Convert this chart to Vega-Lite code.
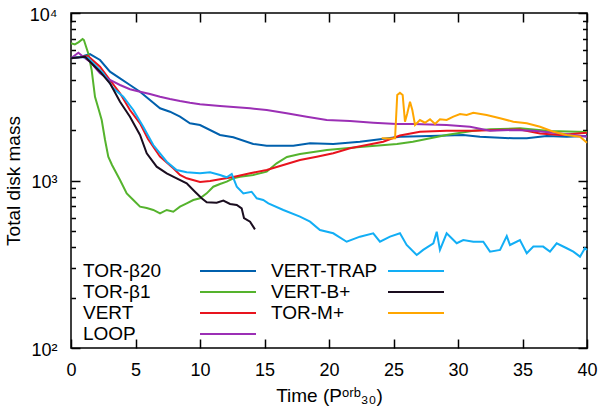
{
  "$schema": "https://vega.github.io/schema/vega-lite/v6.json",
  "autosize": {"type": "none"},
  "width": 516,
  "height": 335,
  "padding": {"left": 71, "top": 13, "right": 14, "bottom": 66},
  "background": "white",
  "config": {
    "view": {"stroke": "black", "strokeWidth": 1.5},
    "axis": {"domain": false, "grid": false, "tickColor": "black", "tickWidth": 1.5, "labelFont": "Liberation Sans", "labelColor": "black", "labelFontSize": 18, "titleFont": "Liberation Sans", "titleColor": "black", "titleFontSize": 19, "titleFontWeight": "normal", "labelFlush": false, "labelOverlap": false, "labelBound": false},
    "legend": {"orient": "none", "legendX": 12, "legendY": 247, "columns": 2, "padding": 0, "labelFont": "Liberation Sans", "labelFontSize": 19, "labelColor": "black", "symbolType": "M10.6,0L16.2,0", "symbolSize": 400, "symbolStrokeWidth": 2, "labelOffset": -22, "columnPadding": 11, "rowPadding": -1.3}
  },
  "data": {"values": [
    {"s":"TOR-β20","t":0,"m":5365},{"s":"TOR-β20","t":0.7,"m":5460},{"s":"TOR-β20","t":1.47,"m":5690},{"s":"TOR-β20","t":2.25,"m":5241},{"s":"TOR-β20","t":3.02,"m":4463},{"s":"TOR-β20","t":3.8,"m":4075},{"s":"TOR-β20","t":4.57,"m":3717},{"s":"TOR-β20","t":5.35,"m":3390},{"s":"TOR-β20","t":6.12,"m":3024},{"s":"TOR-β20","t":6.9,"m":2698},{"s":"TOR-β20","t":7.67,"m":2574},{"s":"TOR-β20","t":8.45,"m":2404},{"s":"TOR-β20","t":9.22,"m":2195},{"s":"TOR-β20","t":10,"m":2145},{"s":"TOR-β20","t":11.55,"m":1870},{"s":"TOR-β20","t":12.58,"m":1811},{"s":"TOR-β20","t":14.13,"m":1652},{"s":"TOR-β20","t":15.17,"m":1614},{"s":"TOR-β20","t":17.23,"m":1614},{"s":"TOR-β20","t":18.53,"m":1667},{"s":"TOR-β20","t":20.33,"m":1652},{"s":"TOR-β20","t":22.4,"m":1705},{"s":"TOR-β20","t":23.95,"m":1762},{"s":"TOR-β20","t":25.5,"m":1826},{"s":"TOR-β20","t":27.83,"m":1844},{"s":"TOR-β20","t":30.4,"m":1870},{"s":"TOR-β20","t":31.7,"m":1826},{"s":"TOR-β20","t":34.29,"m":1786},{"s":"TOR-β20","t":35.33,"m":1786},{"s":"TOR-β20","t":36.88,"m":1844},{"s":"TOR-β20","t":38.43,"m":1826},{"s":"TOR-β20","t":40,"m":1844},
    {"s":"TOR-β1","t":0,"m":6600},{"s":"TOR-β1","t":0.3,"m":6500},{"s":"TOR-β1","t":0.6,"m":6700},{"s":"TOR-β1","t":0.9,"m":7000},{"s":"TOR-β1","t":1.0,"m":6900},{"s":"TOR-β1","t":1.34,"m":5740},{"s":"TOR-β1","t":1.6,"m":4570},{"s":"TOR-β1","t":1.86,"m":3162},{"s":"TOR-β1","t":2.12,"m":2698},{"s":"TOR-β1","t":2.38,"m":2297},{"s":"TOR-β1","t":2.64,"m":1746},{"s":"TOR-β1","t":2.89,"m":1387},{"s":"TOR-β1","t":3.18,"m":1237},{"s":"TOR-β1","t":3.8,"m":1007},{"s":"TOR-β1","t":4.32,"m":838},{"s":"TOR-β1","t":4.83,"m":765},{"s":"TOR-β1","t":5.35,"m":698},{"s":"TOR-β1","t":5.87,"m":685},{"s":"TOR-β1","t":6.38,"m":667},{"s":"TOR-β1","t":6.9,"m":637},{"s":"TOR-β1","t":7.42,"m":667},{"s":"TOR-β1","t":7.93,"m":651},{"s":"TOR-β1","t":8.45,"m":698},{"s":"TOR-β1","t":8.97,"m":731},{"s":"TOR-β1","t":9.48,"m":765},{"s":"TOR-β1","t":10,"m":783},{"s":"TOR-β1","t":10.52,"m":838},{"s":"TOR-β1","t":11.03,"m":918},{"s":"TOR-β1","t":11.55,"m":953},{"s":"TOR-β1","t":12.07,"m":984},{"s":"TOR-β1","t":12.58,"m":1031},{"s":"TOR-β1","t":13.1,"m":1054},{"s":"TOR-β1","t":14.13,"m":1079},{"s":"TOR-β1","t":15.17,"m":1129},{"s":"TOR-β1","t":15.94,"m":1267},{"s":"TOR-β1","t":16.74,"m":1381},{"s":"TOR-β1","t":17.75,"m":1439},{"s":"TOR-β1","t":19.84,"m":1521},{"s":"TOR-β1","t":22.4,"m":1585},{"s":"TOR-β1","t":25.27,"m":1652},{"s":"TOR-β1","t":26.5,"m":1705},{"s":"TOR-β1","t":29.1,"m":1870},{"s":"TOR-β1","t":31.2,"m":1982},{"s":"TOR-β1","t":32.5,"m":2022},{"s":"TOR-β1","t":34.8,"m":2049},{"s":"TOR-β1","t":37.1,"m":1975},{"s":"TOR-β1","t":40,"m":1948},
    {"s":"VERT","t":0,"m":5365},{"s":"VERT","t":0.7,"m":5460},{"s":"VERT","t":1.32,"m":5537},{"s":"VERT","t":2.25,"m":4779},{"s":"VERT","t":3.02,"m":3981},{"s":"VERT","t":3.8,"m":3316},{"s":"VERT","t":4.57,"m":2636},{"s":"VERT","t":5.35,"m":2195},{"s":"VERT","t":5.97,"m":1769},{"s":"VERT","t":6.9,"m":1387},{"s":"VERT","t":7.93,"m":1183},{"s":"VERT","t":8.45,"m":1079},{"s":"VERT","t":8.97,"m":1031},{"s":"VERT","t":10,"m":980},{"s":"VERT","t":10.78,"m":993},{"s":"VERT","t":11.55,"m":1016},{"s":"VERT","t":12.58,"m":1049},{"s":"VERT","t":13.88,"m":1104},{"s":"VERT","t":15.17,"m":1155},{"s":"VERT","t":16.46,"m":1237},{"s":"VERT","t":17.75,"m":1326},{"s":"VERT","t":19.05,"m":1387},{"s":"VERT","t":20.33,"m":1454},{"s":"VERT","t":21.63,"m":1556},{"s":"VERT","t":22.92,"m":1629},{"s":"VERT","t":24.2,"m":1705},{"s":"VERT","t":25.5,"m":1857},{"s":"VERT","t":27.05,"m":1956},{"s":"VERT","t":29.12,"m":1983},{"s":"VERT","t":31.19,"m":1983},{"s":"VERT","t":33.0,"m":2002},{"s":"VERT","t":34.8,"m":2016},{"s":"VERT","t":36.36,"m":1909},{"s":"VERT","t":37.9,"m":1870},{"s":"VERT","t":40,"m":1930},
    {"s":"LOOP","t":0,"m":5365},{"s":"LOOP","t":0.57,"m":5795},{"s":"LOOP","t":1.09,"m":5365},{"s":"LOOP","t":1.47,"m":5121},{"s":"LOOP","t":2.25,"m":4365},{"s":"LOOP","t":3.02,"m":3981},{"s":"LOOP","t":3.8,"m":3717},{"s":"LOOP","t":4.57,"m":3504},{"s":"LOOP","t":5.35,"m":3390},{"s":"LOOP","t":6.12,"m":3284},{"s":"LOOP","t":6.9,"m":3164},{"s":"LOOP","t":7.67,"m":3066},{"s":"LOOP","t":8.45,"m":2983},{"s":"LOOP","t":9.22,"m":2914},{"s":"LOOP","t":10,"m":2855},{"s":"LOOP","t":11.55,"m":2785},{"s":"LOOP","t":13.88,"m":2698},{"s":"LOOP","t":15.17,"m":2636},{"s":"LOOP","t":16.72,"m":2518},{"s":"LOOP","t":18.27,"m":2404},{"s":"LOOP","t":19.82,"m":2297},{"s":"LOOP","t":21.63,"m":2266},{"s":"LOOP","t":23.43,"m":2213},{"s":"LOOP","t":25.25,"m":2175},{"s":"LOOP","t":26.53,"m":2175},{"s":"LOOP","t":29.12,"m":2145},{"s":"LOOP","t":30.93,"m":2095},{"s":"LOOP","t":32.48,"m":1982},{"s":"LOOP","t":34.29,"m":2002},{"s":"LOOP","t":35.84,"m":1982},{"s":"LOOP","t":37.39,"m":1930},{"s":"LOOP","t":38.94,"m":1870},{"s":"LOOP","t":40,"m":1826},
    {"s":"VERT-TRAP","t":0,"m":5365},{"s":"VERT-TRAP","t":0.7,"m":5460},{"s":"VERT-TRAP","t":1.3,"m":5400},{"s":"VERT-TRAP","t":2.5,"m":4365},{"s":"VERT-TRAP","t":3.28,"m":3552},{"s":"VERT-TRAP","t":4.05,"m":3164},{"s":"VERT-TRAP","t":4.83,"m":2636},{"s":"VERT-TRAP","t":5.6,"m":2095},{"s":"VERT-TRAP","t":6.38,"m":1629},{"s":"VERT-TRAP","t":7.42,"m":1295},{"s":"VERT-TRAP","t":8.19,"m":1155},{"s":"VERT-TRAP","t":8.97,"m":1119},{"s":"VERT-TRAP","t":10,"m":1104},{"s":"VERT-TRAP","t":10.78,"m":1119},{"s":"VERT-TRAP","t":11.55,"m":1079},{"s":"VERT-TRAP","t":12.07,"m":1045},{"s":"VERT-TRAP","t":12.46,"m":1094},{"s":"VERT-TRAP","t":12.85,"m":918},{"s":"VERT-TRAP","t":13.36,"m":838},{"s":"VERT-TRAP","t":14.0,"m":857},{"s":"VERT-TRAP","t":14.4,"m":783},{"s":"VERT-TRAP","t":14.9,"m":765},{"s":"VERT-TRAP","t":15.3,"m":731},{"s":"VERT-TRAP","t":16.46,"m":667},{"s":"VERT-TRAP","t":17.75,"m":608},{"s":"VERT-TRAP","t":18.53,"m":568},{"s":"VERT-TRAP","t":19.3,"m":506},{"s":"VERT-TRAP","t":20.33,"m":484},{"s":"VERT-TRAP","t":21.37,"m":431},{"s":"VERT-TRAP","t":22.4,"m":462},{"s":"VERT-TRAP","t":23.43,"m":484},{"s":"VERT-TRAP","t":23.95,"m":431},{"s":"VERT-TRAP","t":24.73,"m":462},{"s":"VERT-TRAP","t":25.5,"m":484},{"s":"VERT-TRAP","t":26.02,"m":412},{"s":"VERT-TRAP","t":26.8,"m":359},{"s":"VERT-TRAP","t":27.3,"m":385},{"s":"VERT-TRAP","t":28.09,"m":422},{"s":"VERT-TRAP","t":28.35,"m":495},{"s":"VERT-TRAP","t":28.6,"m":385},{"s":"VERT-TRAP","t":29.12,"m":484},{"s":"VERT-TRAP","t":29.9,"m":422},{"s":"VERT-TRAP","t":30.41,"m":441},{"s":"VERT-TRAP","t":31.19,"m":431},{"s":"VERT-TRAP","t":31.96,"m":431},{"s":"VERT-TRAP","t":32.48,"m":376},{"s":"VERT-TRAP","t":33.26,"m":385},{"s":"VERT-TRAP","t":33.78,"m":466},{"s":"VERT-TRAP","t":34.03,"m":412},{"s":"VERT-TRAP","t":34.8,"m":441},{"s":"VERT-TRAP","t":35.33,"m":368},{"s":"VERT-TRAP","t":35.84,"m":403},{"s":"VERT-TRAP","t":36.6,"m":403},{"s":"VERT-TRAP","t":37.13,"m":376},{"s":"VERT-TRAP","t":37.65,"m":422},{"s":"VERT-TRAP","t":38.43,"m":394},{"s":"VERT-TRAP","t":38.94,"m":376},{"s":"VERT-TRAP","t":39.46,"m":351},{"s":"VERT-TRAP","t":39.84,"m":394},{"s":"VERT-TRAP","t":40,"m":385},
    {"s":"VERT-B+","t":0,"m":5365},{"s":"VERT-B+","t":1.09,"m":5483},{"s":"VERT-B+","t":2.25,"m":4463},{"s":"VERT-B+","t":3.02,"m":3803},{"s":"VERT-B+","t":3.8,"m":2954},{"s":"VERT-B+","t":4.57,"m":2404},{"s":"VERT-B+","t":5.35,"m":1870},{"s":"VERT-B+","t":5.87,"m":1454},{"s":"VERT-B+","t":6.64,"m":1209},{"s":"VERT-B+","t":7.42,"m":1104},{"s":"VERT-B+","t":8.19,"m":1031},{"s":"VERT-B+","t":8.97,"m":962},{"s":"VERT-B+","t":9.61,"m":857},{"s":"VERT-B+","t":10.13,"m":783},{"s":"VERT-B+","t":10.52,"m":741},{"s":"VERT-B+","t":11.29,"m":737},{"s":"VERT-B+","t":11.81,"m":758},{"s":"VERT-B+","t":12.33,"m":724},{"s":"VERT-B+","t":12.85,"m":714},{"s":"VERT-B+","t":13.23,"m":682},{"s":"VERT-B+","t":13.41,"m":597},{"s":"VERT-B+","t":13.88,"m":568},{"s":"VERT-B+","t":14.26,"m":511},
    {"s":"TOR-M+","t":24.08,"m":1786},{"s":"TOR-M+","t":24.73,"m":1780},{"s":"TOR-M+","t":25.12,"m":1786},{"s":"TOR-M+","t":25.29,"m":3238},{"s":"TOR-M+","t":25.5,"m":3343},{"s":"TOR-M+","t":25.71,"m":3238},{"s":"TOR-M+","t":25.89,"m":2244},{"s":"TOR-M+","t":26.07,"m":2518},{"s":"TOR-M+","t":26.28,"m":2954},{"s":"TOR-M+","t":26.46,"m":2636},{"s":"TOR-M+","t":26.67,"m":2145},{"s":"TOR-M+","t":27.05,"m":2297},{"s":"TOR-M+","t":27.44,"m":2213},{"s":"TOR-M+","t":27.83,"m":2320},{"s":"TOR-M+","t":28.22,"m":2175},{"s":"TOR-M+","t":28.6,"m":2320},{"s":"TOR-M+","t":29.12,"m":2297},{"s":"TOR-M+","t":29.64,"m":2404},{"s":"TOR-M+","t":30.16,"m":2495},{"s":"TOR-M+","t":30.67,"m":2460},{"s":"TOR-M+","t":31.19,"m":2540},{"s":"TOR-M+","t":32.22,"m":2460},{"s":"TOR-M+","t":33.26,"m":2351},{"s":"TOR-M+","t":34.29,"m":2244},{"s":"TOR-M+","t":35.33,"m":2195},{"s":"TOR-M+","t":36.36,"m":2095},{"s":"TOR-M+","t":37.39,"m":1956},{"s":"TOR-M+","t":38.43,"m":1870},{"s":"TOR-M+","t":39.46,"m":1826},{"s":"TOR-M+","t":40,"m":1682}
  ]},
  "resolve": {"axis": {"x": "independent", "y": "independent"}},
  "layer": [
    {
      "mark": {"type": "line", "strokeWidth": 2},
      "encoding": {
        "x": {"field": "t", "type": "quantitative", "scale": {"domain": [0, 40], "nice": false, "zero": false},
              "axis": {"orient": "bottom", "values": [0,5,10,15,20,25,30,35,40], "tickSize": -9, "labelPadding": 22, "title": "Time (Pᵒʳᵇ₃₀)", "titlePadding": 7}},
        "y": {"field": "m", "type": "quantitative", "scale": {"type": "log", "domain": [100, 10000], "nice": false},
              "axis": {"orient": "left", "values": [100, 1000, 10000], "labelExpr": "datum.value == 100 ? '10²' : datum.value == 1000 ? '10³' : '10⁴'", "tickSize": -9, "labelPadding": 23, "labelOffset": 2, "title": "Total disk mass", "titlePadding": 6}},
        "color": {"field": "s", "type": "nominal",
                  "scale": {"domain": ["TOR-β20","TOR-β1","VERT","LOOP","VERT-TRAP","VERT-B+","TOR-M+"],
                            "range": ["#0060ad","#55b32d","#e8141e","#9b2fb5","#12aef5","#1a0d1f","#ffa600"]},
                  "legend": {"title": null}}
      }
    },
    {
      "mark": {"type": "line", "strokeOpacity": 0},
      "encoding": {
        "x": {"field": "t", "type": "quantitative", "scale": {"domain": [0, 40], "nice": false, "zero": false},
              "axis": {"orient": "top", "values": [0,5,10,15,20,25,30,35,40], "tickSize": -9, "labels": false, "title": null}},
        "y": {"field": "m", "type": "quantitative", "scale": {"type": "log", "domain": [100, 10000], "nice": false},
              "axis": {"orient": "right", "values": [100, 1000, 10000], "tickSize": -9, "labels": false, "title": null}}
      }
    },
    {
      "mark": {"type": "line", "strokeOpacity": 0},
      "encoding": {
        "x": {"field": "t", "type": "quantitative", "scale": {"domain": [0, 40], "nice": false, "zero": false}, "axis": null},
        "y": {"field": "m", "type": "quantitative", "scale": {"type": "log", "domain": [100, 10000], "nice": false},
              "axis": {"orient": "left", "values": [200,300,400,500,600,700,800,900,2000,3000,4000,5000,6000,7000,8000,9000], "tickSize": -4.5, "labels": false, "title": null}}
      }
    },
    {
      "mark": {"type": "line", "strokeOpacity": 0},
      "encoding": {
        "x": {"field": "t", "type": "quantitative", "scale": {"domain": [0, 40], "nice": false, "zero": false}, "axis": null},
        "y": {"field": "m", "type": "quantitative", "scale": {"type": "log", "domain": [100, 10000], "nice": false},
              "axis": {"orient": "right", "values": [200,300,400,500,600,700,800,900,2000,3000,4000,5000,6000,7000,8000,9000], "tickSize": -4.5, "labels": false, "title": null}}
      }
    }
  ]
}
